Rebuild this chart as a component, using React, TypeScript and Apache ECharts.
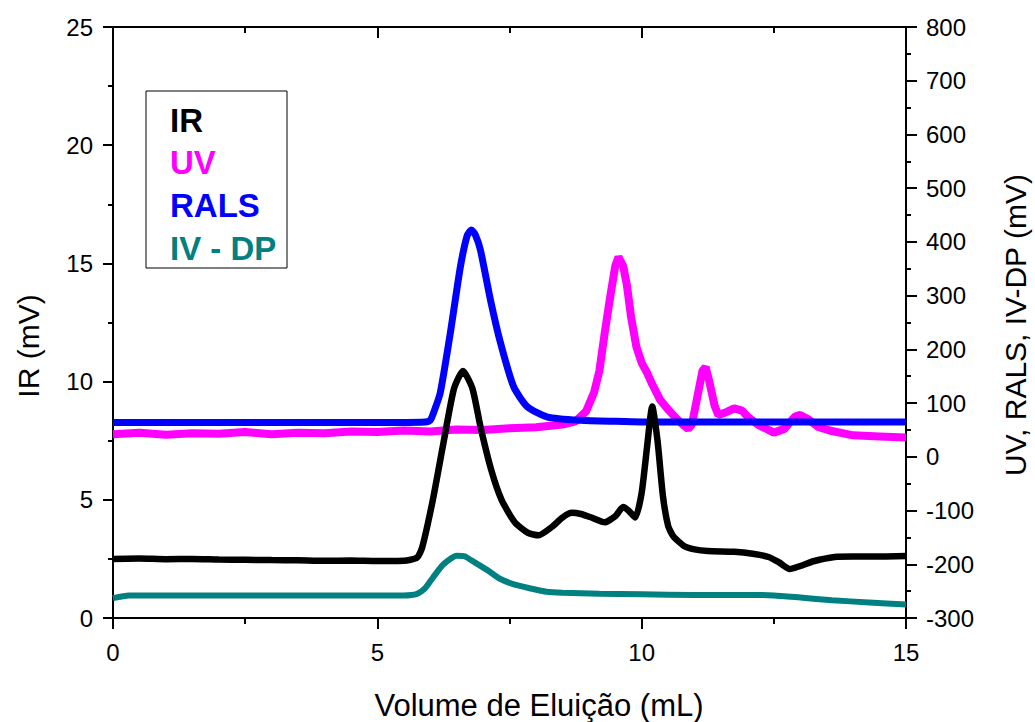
import React, { useEffect, useRef } from "react";
import * as echarts from "echarts";

// ---- Data ----
const irVol = [0, 0.5, 1, 1.5, 2, 2.5, 3, 3.5, 4, 4.5, 5, 5.5, 5.75, 5.85, 6.05, 6.25, 6.45, 6.62, 6.8, 6.95, 7.15, 7.35, 7.6, 7.85, 8.05, 8.3, 8.5, 8.68, 8.85, 9.05, 9.3, 9.5, 9.65, 9.75, 9.88, 10.0, 10.1, 10.2, 10.3, 10.4, 10.5, 10.6, 10.8, 11.0, 11.25, 11.75, 12.1, 12.4, 12.6, 12.8, 13.0, 13.25, 13.65, 14.0, 14.5, 15];
const irVal = [2.5, 2.52, 2.49, 2.5, 2.47, 2.46, 2.45, 2.44, 2.42, 2.43, 2.41, 2.42, 2.55, 3.0, 5.0, 7.4, 9.7, 10.45, 9.7, 8.1, 6.3, 5.0, 4.05, 3.6, 3.5, 3.85, 4.25, 4.45, 4.4, 4.25, 4.05, 4.3, 4.7, 4.55, 4.25, 5.3, 7.2, 8.95, 7.5, 5.2, 3.9, 3.45, 3.05, 2.9, 2.83, 2.8, 2.72, 2.58, 2.35, 2.07, 2.2, 2.4, 2.58, 2.6, 2.6, 2.62];

const uvVol = [0, 0.5, 1, 1.5, 2, 2.5, 3, 3.5, 4, 4.5, 5, 5.5, 6, 6.5, 7, 7.5, 8, 8.5, 8.75, 8.95, 9.1, 9.2, 9.3, 9.4, 9.5, 9.56, 9.65, 9.72, 9.8, 9.9, 10.0, 10.1, 10.2, 10.35, 10.5, 10.65, 10.8, 10.88, 10.95, 11.05, 11.15, 11.21, 11.28, 11.38, 11.45, 11.6, 11.75, 11.9, 12.0, 12.2, 12.5, 12.7, 12.9, 13.0, 13.15, 13.35, 13.6, 14.0, 14.5, 15];
const uvVal = [42, 45, 41, 44, 43, 46, 42, 45, 44, 47, 46, 49, 47, 51, 50, 53, 55, 60, 66, 85, 120, 160, 230, 295, 355, 372, 355, 320, 260, 205, 175, 157, 135, 106, 88, 72, 58, 52, 60, 110, 160, 167, 140, 95, 78, 83, 90, 86, 75, 60, 45, 52, 75, 78, 70, 55, 48, 40, 38, 36];

const ralsVol = [0, 1, 2, 3, 4, 5, 5.9, 6.0, 6.06, 6.19, 6.38, 6.57, 6.7, 6.78, 6.85, 6.95, 7.14, 7.33, 7.58, 7.84, 8.22, 8.84, 9.5, 10, 11, 12, 13, 14, 15];
const ralsVal = [64, 64, 64, 64, 64, 64, 65, 68, 81, 119, 230, 353, 412, 422, 414, 385, 292, 212, 130, 93, 74, 68, 66, 65, 65, 65, 65, 65, 65];

const ivVol = [0, 0.3, 1, 2, 3, 4, 5, 5.5, 5.75, 5.9, 6.05, 6.25, 6.5, 6.65, 6.85, 7.1, 7.3, 7.6, 7.9, 8.2, 8.5, 9.2, 10, 11, 12, 12.5, 13, 13.6, 14.3, 15];
const ivVal = [-263, -258, -258, -258, -258, -258, -258, -258, -255, -245, -225, -200, -184, -185, -197, -212, -226, -238, -245, -251, -253, -255, -256, -257, -257, -258, -262, -267, -271, -275];

const xTicks = { min: 0, max: 15, interval: 5 };
const leftTicks = { min: 0, max: 25, interval: 5 };
const rightTicks = { min: -300, max: 800, interval: 100 };

const legendNames = ["IR", "UV", "RALS", "IV - DP"];
const colors = ["#000000", "#FF00FF", "#0000FF", "#008080"];

const FONT = "'Liberation Sans', Arial, Helvetica, sans-serif";

function pairs(xs: number[], ys: number[]) {
  return xs.map((x, i) => [x, ys[i]]);
}

export default function App() {
  const ref = useRef<HTMLDivElement>(null);
  useEffect(() => {
    document.body.style.margin = "0";
    const chart = echarts.init(ref.current!, null, { renderer: "svg" });
    const axisLine = { show: true, onZero: false, lineStyle: { color: "#000", width: 2 } };
    const tickStyle = { color: "#000", width: 2 };
    const labelStyle = { fontSize: 24, color: "#000", fontFamily: FONT };
    const option: any = {
      animation: false,
      backgroundColor: "#fff",
      grid: { left: 113, right: 129, top: 27, bottom: 104, containLabel: false },
      xAxis: [
        {
          type: "value",
          position: "bottom",
          ...xTicks,
          axisLine,
          axisTick: { show: true, inside: false, length: 11, lineStyle: tickStyle },
          minorTick: { show: true, splitNumber: 2, length: 6, lineStyle: tickStyle },
          axisLabel: { ...labelStyle, margin: 22 },
          splitLine: { show: false },
        },
        {
          type: "value",
          position: "top",
          ...xTicks,
          axisLine,
          axisTick: { show: true, inside: true, length: 11, lineStyle: tickStyle },
          minorTick: { show: true, splitNumber: 2, length: 6, lineStyle: tickStyle },
          axisLabel: { show: false },
          splitLine: { show: false },
        },
      ],
      yAxis: [
        {
          type: "value",
          position: "left",
          ...leftTicks,
          axisLine,
          axisTick: { show: true, inside: false, length: 10, lineStyle: tickStyle },
          minorTick: { show: true, splitNumber: 2, length: 5, lineStyle: tickStyle },
          axisLabel: { ...labelStyle, margin: 20 },
          splitLine: { show: false },
        },
        {
          type: "value",
          position: "right",
          ...rightTicks,
          axisLine,
          axisTick: { show: true, inside: false, length: 11, lineStyle: tickStyle },
          minorTick: { show: true, splitNumber: 2, length: 5, lineStyle: tickStyle },
          axisLabel: { ...labelStyle, margin: 20 },
          splitLine: { show: false },
        },
      ],
      series: [
        {
          name: "UV",
          type: "line",
          yAxisIndex: 1,
          data: pairs(uvVol, uvVal),
          showSymbol: false,
          lineStyle: { color: colors[1], width: 8 },
          z: 2,
        },
        {
          name: "RALS",
          type: "line",
          yAxisIndex: 1,
          data: pairs(ralsVol, ralsVal),
          showSymbol: false,
          smooth: 0.2,
          lineStyle: { color: colors[2], width: 7 },
          z: 3,
        },
        {
          name: "IV - DP",
          type: "line",
          yAxisIndex: 1,
          data: pairs(ivVol, ivVal),
          showSymbol: false,
          smooth: 0.2,
          lineStyle: { color: colors[3], width: 6 },
          z: 3,
        },
        {
          name: "IR",
          type: "line",
          yAxisIndex: 0,
          data: pairs(irVol, irVal),
          showSymbol: false,
          smooth: 0.2,
          lineStyle: { color: colors[0], width: 6.5 },
          z: 4,
        },
      ],
      graphic: [
        {
          type: "rect",
          shape: { x: 146, y: 91, width: 141, height: 177 },
          style: { fill: "#fff", stroke: "#000", lineWidth: 1 },
          z: 10,
        },
        ...legendNames.map((name, i) => ({
          type: "text",
          x: 170,
          y: [120, 162, 205, 248][i],
          z: 11,
          style: {
            text: name,
            fill: colors[i],
            fontSize: 33,
            fontWeight: "bold",
            fontFamily: FONT,
            align: "left",
            verticalAlign: "middle",
          },
        })),
        {
          type: "text",
          x: 539,
          y: 705,
          style: {
            text: "Volume de Eluição (mL)",
            fill: "#000",
            fontSize: 31,
            fontFamily: FONT,
            align: "center",
            verticalAlign: "middle",
          },
        },
        {
          type: "text",
          x: 28,
          y: 346,
          rotation: Math.PI / 2,
          style: {
            text: "IR (mV)",
            fill: "#000",
            fontSize: 30,
            fontFamily: FONT,
            align: "center",
            verticalAlign: "middle",
          },
        },
        {
          type: "text",
          x: 1015,
          y: 325,
          rotation: Math.PI / 2,
          style: {
            text: "UV, RALS, IV-DP (mV)",
            fill: "#000",
            fontSize: 30,
            fontFamily: FONT,
            align: "center",
            verticalAlign: "middle",
          },
        },
      ],
    };
    chart.setOption(option);
    return () => chart.dispose();
  }, []);
  return <div ref={ref} style={{ width: 1035, height: 722 }} />;
}
